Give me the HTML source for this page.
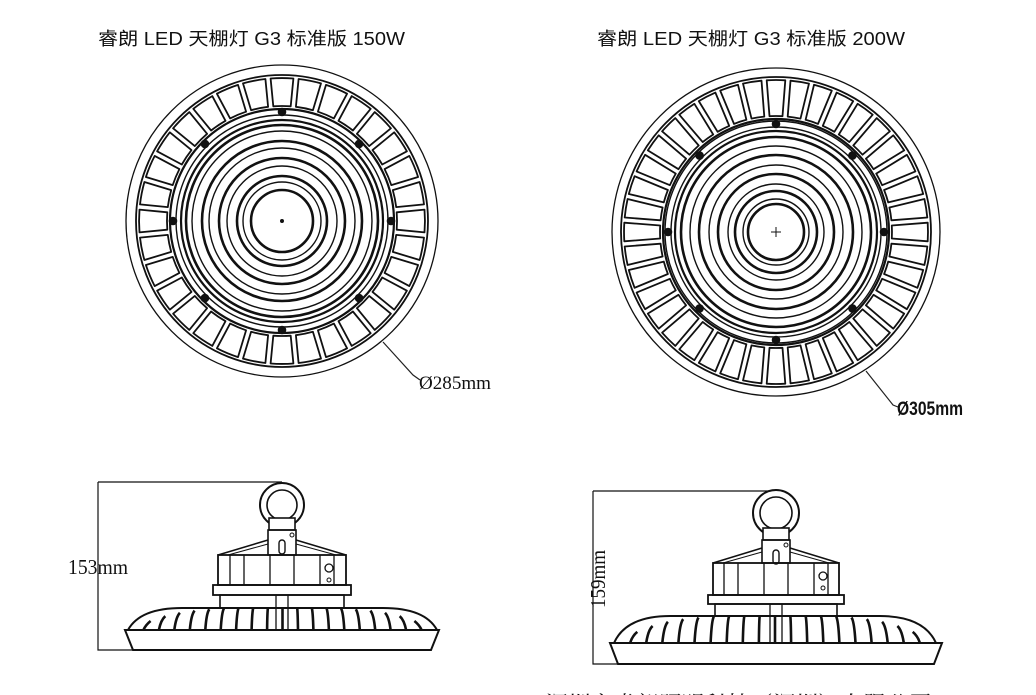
<!DOCTYPE html>
<html><head><meta charset="utf-8"><style>
html,body{margin:0;padding:0;background:#fff;width:1036px;height:695px;overflow:hidden}
svg{display:block}
text{fill:#111}
</style></head><body>
<svg id="s" width="1036" height="695" viewBox="0 0 1036 695" xmlns="http://www.w3.org/2000/svg">
<text x="98" y="45" font-size="18" font-family="'Liberation Sans','Noto Sans CJK SC',sans-serif" textLength="307" lengthAdjust="spacingAndGlyphs">睿朗 LED 天棚灯 G3 标准版 150W</text>
<text x="597" y="45" font-size="18" font-family="'Liberation Sans','Noto Sans CJK SC',sans-serif" textLength="308" lengthAdjust="spacingAndGlyphs">睿朗 LED 天棚灯 G3 标准版 200W</text>
<g fill="none" stroke="#222" stroke-width="1.2">
<polyline points="383,342 413,375 420,380"/>
<polyline points="866,371 893,405 898,407"/>
</g>
<text x="419" y="389" font-size="19" font-family="'Liberation Serif',serif" textLength="72" lengthAdjust="spacingAndGlyphs">Ø285mm</text>
<text x="897" y="415" font-size="19" font-weight="bold" font-family="'Liberation Sans',sans-serif" textLength="66" lengthAdjust="spacingAndGlyphs">Ø305mm</text>
<text x="68" y="574" font-size="21" font-family="'Liberation Serif',serif" textLength="60" lengthAdjust="spacingAndGlyphs">153mm</text>
<text transform="translate(605,608) rotate(-90)" font-size="21" font-family="'Liberation Serif',serif" textLength="58" lengthAdjust="spacingAndGlyphs">159mm</text>
<text x="545" y="712" font-size="22" font-family="'Liberation Serif','Noto Serif CJK SC',serif" fill="#333" textLength="495" lengthAdjust="spacingAndGlyphs">深圳市睿朗照明科技（深圳）有限公司 2020.08.25</text>
<g id="g" fill="none" stroke="#111" stroke-width="1.6"></g>
</svg>
<script>
(function(){
const g=document.getElementById('g');
let h='';
function C(cx,cy,r,w){h+=`<circle cx="${cx}" cy="${cy}" r="${r}" stroke-width="${w||1.6}"/>`;}
function topView(cx,cy,R,fo,fi,sr,ir,rings,n,cross){
 C(cx,cy,R,1.3);
 C(cx,cy,fo+3,1.8);
 const step=2*Math.PI/n, gw=2.6;
 const p=(r,a)=>`${(cx+r*Math.cos(a)).toFixed(1)},${(cy+r*Math.sin(a)).toFixed(1)}`;
 for(let i=0;i<n;i++){
  const b0=i*step-Math.PI/2+step/2, b1=b0+step;
  const a0i=b0+Math.asin(gw/fi), a0o=b0+Math.asin(gw/fo), a1i=b1-Math.asin(gw/fi), a1o=b1-Math.asin(gw/fo);
  h+=`<path d="M${p(fi,a0i)} L${p(fo,a0o)} A${fo},${fo} 0 0 1 ${p(fo,a1o)} L${p(fi,a1i)} A${fi},${fi} 0 0 0 ${p(fi,a0i)} Z" stroke-width="1.8" stroke-linejoin="round"/>`;
 }
 C(cx,cy,fi-3,2.2);
 C(cx,cy,sr+3,1.4);C(cx,cy,sr-3,1.4);
 for(let k=0;k<8;k++){const a=k*Math.PI/4;h+=`<circle cx="${(cx+sr*Math.cos(a)).toFixed(1)}" cy="${(cy+sr*Math.sin(a)).toFixed(1)}" r="3.5" fill="#111" stroke="#111"/>`;}
 C(cx,cy,ir,2.2);
 rings.forEach((r,i)=>C(cx,cy,r,i%2?1.4:2.6));
 if(cross)h+=`<path d="M${cx-5},${cy}h10M${cx},${cy-5}v10" stroke-width="1"/>`;else h+=`<circle cx="${cx}" cy="${cy}" r="1.2" fill="#111"/>`;
}
topView(282,221,156,143,115,109,101,[96,90,80,73,63,55,45,39,31],32,false);
topView(776,232,164,152,116,108,101,[95,86,77,67,58,48,41,33,28],40,true);
function side(o){
 const {cx,dimX,dimTop,dimR,ry,ro,ri,neckY,postY,roofY,bodyY,bodyH,bw,bandH,lowH,finTop,finBot,fl,fr,dl,dr,bot}=o;
 h+=`<path d="M${dimX},${dimTop}H${dimR}M${dimX},${dimTop}V${bot}H${dl+8}" stroke-width="1.2"/>`;
 h+=`<circle cx="${cx}" cy="${ry}" r="${ro}" stroke-width="2" fill="#fff"/><circle cx="${cx}" cy="${ry}" r="${ri}" stroke-width="1.6"/>`;
 h+=`<rect x="${cx-13}" y="${neckY}" width="26" height="${postY-neckY}" stroke-width="1.6" fill="#fff"/>`;
 h+=`<rect x="${cx-14}" y="${postY}" width="28" height="${bodyY-postY}" stroke-width="1.6"/>`;
 h+=`<circle cx="${cx+10}" cy="${postY+5}" r="2" stroke-width="1"/><rect x="${cx-3}" y="${postY+10}" width="6" height="14" rx="3" stroke-width="1.4"/>`;
 h+=`<path d="M${cx-14},${roofY} L${cx-bw/2},${bodyY} M${cx+14},${roofY} L${cx+bw/2},${bodyY}" stroke-width="1.6"/>`;
 h+=`<path d="M${cx-14},${roofY+4} L${cx-bw/2+10},${bodyY} M${cx+14},${roofY+4} L${cx+bw/2-10},${bodyY}" stroke-width="1"/>`;
 h+=`<rect x="${cx-bw/2}" y="${bodyY}" width="${bw}" height="${bodyH}" stroke-width="1.8"/>`;
 for(const dx of [-52,-38,-12,12,38,52])h+=`<line x1="${cx+dx}" y1="${bodyY}" x2="${cx+dx}" y2="${bodyY+bodyH}" stroke-width="1.3"/>`;
 h+=`<circle cx="${cx+47}" cy="${bodyY+13}" r="4" stroke-width="1.3"/><circle cx="${cx+47}" cy="${bodyY+25}" r="2" stroke-width="1"/>`;
 h+=`<rect x="${cx-bw/2-5}" y="${bodyY+bodyH}" width="${bw+10}" height="${bandH}" stroke-width="1.8"/>`;
 h+=`<rect x="${cx-bw/2+2}" y="${bodyY+bodyH+bandH}" width="${bw-4}" height="${lowH}" stroke-width="1.6"/>`;
 h+=`<path d="M${cx-6},${bodyY+bodyH+bandH} V${finBot} M${cx+6},${bodyY+bodyH+bandH} V${finBot}" stroke-width="1.3"/>`;
 const w=(fr-fl)/2;
 h+=`<path d="M${fl},${finBot} Q${fl+12},${finTop} ${fl+w*0.35},${finTop} H${fr-w*0.35} Q${fr-12},${finTop} ${fr},${finBot}" stroke-width="2"/>`;
 const N=20;
 for(let i=1;i<N;i++){const t=i/N;const x=fl+(fr-fl)*t;const off=(t-0.5)*16;const yt=finTop+Math.pow(Math.abs(t-0.5)*2,4)*(finBot-finTop)*0.9;h+=`<path d="M${(x-off).toFixed(1)},${yt.toFixed(1)} Q${(x-off*0.3).toFixed(1)},${(yt+4).toFixed(1)} ${x.toFixed(1)},${finBot}" stroke-width="2.6"/>`;}
 h+=`<path d="M${dl},${finBot} H${dr} L${dr-8},${bot} H${dl+8} Z" stroke-width="2" fill="#fff"/>`;
}
side({cx:282,dimX:98,dimTop:482,dimR:282,ry:505,ro:22,ri:15,neckY:518,postY:530,roofY:540,bodyY:555,bodyH:30,bw:128,bandH:10,lowH:13,finTop:608,finBot:630,fl:128,fr:437,dl:125,dr:439,bot:650});
side({cx:776,dimX:593,dimTop:491,dimR:776,ry:513,ro:23,ri:16,neckY:528,postY:540,roofY:548,bodyY:563,bodyH:32,bw:126,bandH:9,lowH:12,finTop:616,finBot:643,fl:614,fr:936,dl:610,dr:942,bot:664});
g.innerHTML=h;
})();
</script>
</body></html>
